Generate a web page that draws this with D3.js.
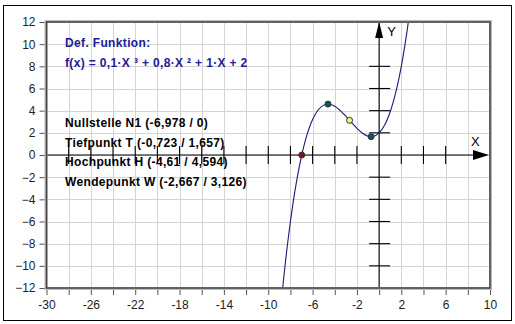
<!DOCTYPE html>
<html>
<head>
<meta charset="utf-8">
<script src="https://cdn.jsdelivr.net/npm/d3@7"></script>
<style>
  body { margin: 0; background: #fff; }
  text { font-family: "Liberation Sans", Arial, sans-serif; }
</style>
</head>
<body>
<svg id="chart" width="515" height="324"></svg>
<script>
// curve samples (x step 0.5)
const curveX = [-9, -8.5, -8, -7.5, -7, -6.5, -6, -5.5, -5, -4.5, -4, -3.5, -3,
  -2.5, -2, -1.5, -1, -0.5, 0, 0.5, 1, 1.5, 2, 2.5, 3];
const curveY = [-15.1, -10.11, -6, -2.69, -0.1, 1.84, 3.2, 4.06, 4.5, 4.59, 4.4,
  4.01, 3.5, 2.94, 2.4, 1.96, 1.7, 1.69, 2, 2.71, 3.9, 5.64, 8, 11.06, 14.9];

// special points: N1, H, T, W
const pointNames = ["N1", "H", "T", "W"];
const pointX = [-6.978, -4.61, -0.723, -2.667];
const pointY = [0, 4.594, 1.657, 3.126];
const pointFill = ["#7a1030", "#0e5a5a", "#0e5a5a", "#f4f07a"];

const xTicks = d3.range(-30, 11, 4);
const yTicks = d3.range(-12, 13, 2);
const gridTicks = d3.range(-30, 11, 2);

const titleLines = ["Def. Funktion:", "f(x) = 0,1·X ³ + 0,8·X ² + 1·X + 2"];
const infoLines = [
  "Nullstelle N1 (-6,978 / 0)",
  "Tiefpunkt T (-0,723 / 1,657)",
  "Hochpunkt H (-4,61 / 4,594)",
  "Wendepunkt W (-2,667 / 3,126)"
];

const svg = d3.select("#chart");
const L = 46.5, R = 490, T = 22, B = 288;
const x = d3.scaleLinear().domain([-30, 10]).range([L, R]);
const y = d3.scaleLinear().domain([-12, 12]).range([B, T]);

// outer frame
svg.append("rect")
  .attr("x", 3.5).attr("y", 5.5).attr("width", 508).attr("height", 315)
  .attr("fill", "none").attr("stroke", "#000");

// grid
const grid = svg.append("g").attr("stroke", "#d4d4d4").attr("stroke-width", 1);
grid.selectAll(".gx").data(gridTicks).enter().append("line")
  .attr("x1", d => Math.round(x(d)) + 0.5).attr("x2", d => Math.round(x(d)) + 0.5)
  .attr("y1", T).attr("y2", B);
grid.selectAll(".gy").data(yTicks).enter().append("line")
  .attr("y1", d => Math.round(y(d)) + 0.5).attr("y2", d => Math.round(y(d)) + 0.5)
  .attr("x1", L).attr("x2", R);

// outside axes (ticks + labels)
const yAxis = d3.axisLeft(y).tickValues(yTicks).tickSize(6).tickPadding(4);
svg.append("g").attr("transform", `translate(${L - 1},0)`).call(yAxis)
  .call(g => g.select(".domain").remove())
  .call(g => g.selectAll("line").attr("stroke", "#555"))
  .call(g => g.selectAll("text").attr("font-size", 12).attr("fill", "#222")
    .style("font-family", "'Liberation Sans', Arial, sans-serif"));

const xAxis = d3.axisBottom(x).tickValues(gridTicks).tickSize(6).tickPadding(5)
  .tickFormat(d => xTicks.includes(d) ? d : "");
svg.append("g").attr("transform", `translate(0,${B + 1})`).call(xAxis)
  .call(g => g.select(".domain").remove())
  .call(g => g.selectAll("line").attr("stroke", "#555"))
  .call(g => g.selectAll("text").attr("font-size", 12).attr("fill", "#222")
    .style("font-family", "'Liberation Sans', Arial, sans-serif"));

// texts
svg.selectAll(".title").data(titleLines).enter().append("text")
  .attr("x", 65).attr("y", (d, i) => 47 + i * 19.5)
  .attr("font-size", 12).attr("font-weight", "bold").attr("fill", "#1c1c96")
  .attr("letter-spacing", 0.35)
  .text(d => d);
svg.selectAll(".info").data(infoLines).enter().append("text")
  .attr("x", 65).attr("y", (d, i) => 127 + i * 19.5)
  .attr("font-size", 12).attr("font-weight", "bold").attr("fill", "#000")
  .attr("letter-spacing", 0.35)
  .text(d => d);

// inner coordinate axes
const x0 = x(0), y0 = y(0);
const ax = svg.append("g").attr("stroke", "#000").attr("stroke-width", 1.1);
ax.append("line").attr("x1", L).attr("x2", R - 4).attr("y1", y0).attr("y2", y0);
ax.append("line").attr("x1", x0).attr("x2", x0).attr("y1", T).attr("y2", B);
ax.selectAll(".tx").data(gridTicks.filter(d => d > -30 && d < 8 && d !== 0)).enter().append("line")
  .attr("x1", d => x(d)).attr("x2", d => x(d)).attr("y1", y0 - 9).attr("y2", y0 + 9);
ax.selectAll(".ty").data(yTicks.filter(d => d > -12 && d < 10 && d !== 0)).enter().append("line")
  .attr("y1", d => y(d)).attr("y2", d => y(d)).attr("x1", x0 - 10).attr("x2", x0 + 11);
// arrows
svg.append("path")
  .attr("d", `M${x0},${T} L${x0 + 4},${T + 16} L${x0 - 4},${T + 16} Z`).attr("fill", "#000");
svg.append("path")
  .attr("d", `M${R - 1},${y0} L${R - 17},${y0 - 5} L${R - 17},${y0 + 5} Z`).attr("fill", "#000");
svg.append("text").attr("x", x0 + 8).attr("y", T + 14).attr("font-size", 13).text("Y");
svg.append("text").attr("x", R - 19).attr("y", y0 - 9).attr("font-size", 13).text("X");

// curve, clipped to plot
svg.append("clipPath").attr("id", "clip").append("rect")
  .attr("x", L).attr("y", T).attr("width", R - L).attr("height", B - T);
const line = d3.line().x((d, i) => x(curveX[i])).y(d => y(d)).curve(d3.curveCatmullRom);
svg.append("path").datum(curveY).attr("clip-path", "url(#clip)")
  .attr("d", line).attr("fill", "none").attr("stroke", "#1a1a7a").attr("stroke-width", 1.1);

// special points
svg.selectAll(".pt").data(pointNames).enter().append("circle")
  .attr("cx", (d, i) => x(pointX[i])).attr("cy", (d, i) => y(pointY[i]))
  .attr("r", 3).attr("fill", (d, i) => pointFill[i])
  .attr("stroke", "#333").attr("stroke-width", 1);

// plot border
svg.append("rect").attr("x", L - 0.5).attr("y", T - 0.5)
  .attr("width", R - L + 1).attr("height", B - T + 1)
  .attr("fill", "none").attr("stroke", "#bbb").attr("stroke-width", 3);
svg.append("rect").attr("x", L).attr("y", T).attr("width", R - L).attr("height", B - T)
  .attr("fill", "none").attr("stroke", "#444").attr("stroke-width", 1.5);
</script>
</body>
</html>
